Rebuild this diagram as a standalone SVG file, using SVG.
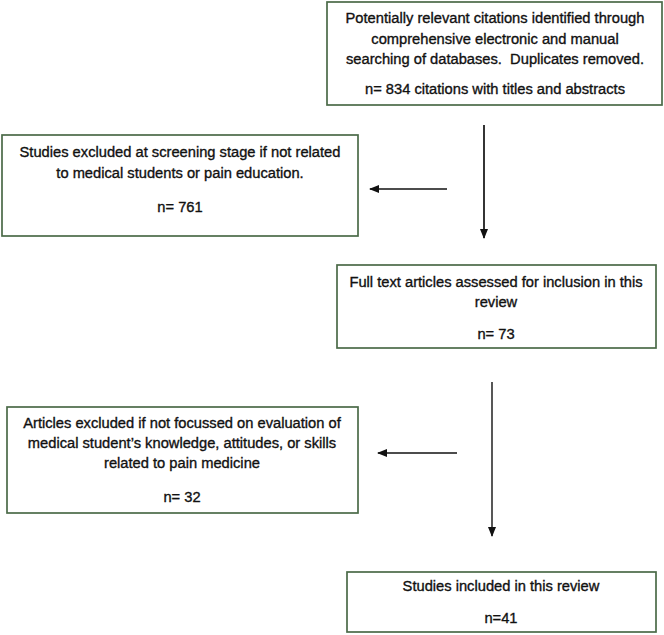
<svg xmlns="http://www.w3.org/2000/svg" width="664" height="635" viewBox="0 0 664 635">
<defs>
<style>
.box{fill:#ffffff;stroke:#4b6a48;stroke-width:1.7}
.t{font-family:"Liberation Sans",Arial,sans-serif;font-size:14.7px;fill:#111111;stroke:#111111;stroke-width:0.35;text-anchor:middle;white-space:pre}
.c{stroke:#111111;stroke-width:1.7;fill:none}
</style>
<marker id="ah2" viewBox="0 0 10 10" refX="9" refY="5" markerWidth="10" markerHeight="10" orient="auto" markerUnits="userSpaceOnUse">
<path d="M0,1 L10,5 L0,9 z" fill="#111111"/>
</marker>
</defs>
<rect width="664" height="635" fill="#ffffff"/>
<g id="connectors">
<line class="c" x1="484" y1="125" x2="484" y2="238" marker-end="url(#ah2)"/>
<line class="c" x1="447" y1="189" x2="370" y2="189" marker-end="url(#ah2)"/>
<line class="c" x1="492" y1="382" x2="492" y2="536" marker-end="url(#ah2)" style="stroke:#3a3a3a"/>
<line class="c" x1="457" y1="453" x2="378" y2="453" marker-end="url(#ah2)"/>
</g>
<g id="node1">
<rect class="box" x="327" y="2" width="335" height="103"/>
<text class="t" x="495" y="23">Potentially relevant citations identified through</text>
<text class="t" x="495" y="44">comprehensive electronic and manual</text>
<text class="t" x="495" y="64">searching of databases.  Duplicates removed.</text>
<text class="t" x="495" y="94">n= 834 citations with titles and abstracts</text>
</g>
<g id="node2">
<rect class="box" x="2" y="135" width="356" height="101"/>
<text class="t" x="180" y="157">Studies excluded at screening stage if not related</text>
<text class="t" x="180" y="178">to medical students or pain education.</text>
<text class="t" x="180" y="212">n= 761</text>
</g>
<g id="node3">
<rect class="box" x="337" y="265" width="319" height="83"/>
<text class="t" x="496" y="287">Full text articles assessed for inclusion in this</text>
<text class="t" x="496" y="307">review</text>
<text class="t" x="496" y="339">n= 73</text>
</g>
<g id="node4">
<rect class="box" x="7" y="407" width="351" height="106"/>
<text class="t" x="182" y="428">Articles excluded if not focussed on evaluation of</text>
<text class="t" x="182" y="448">medical student’s knowledge, attitudes, or skills</text>
<text class="t" x="182" y="468">related to pain medicine</text>
<text class="t" x="182" y="502">n= 32</text>
</g>
<g id="node5">
<rect class="box" x="347" y="572" width="309" height="60"/>
<text class="t" x="501" y="591">Studies included in this review</text>
<text class="t" x="501" y="623">n=41</text>
</g>
</svg>
